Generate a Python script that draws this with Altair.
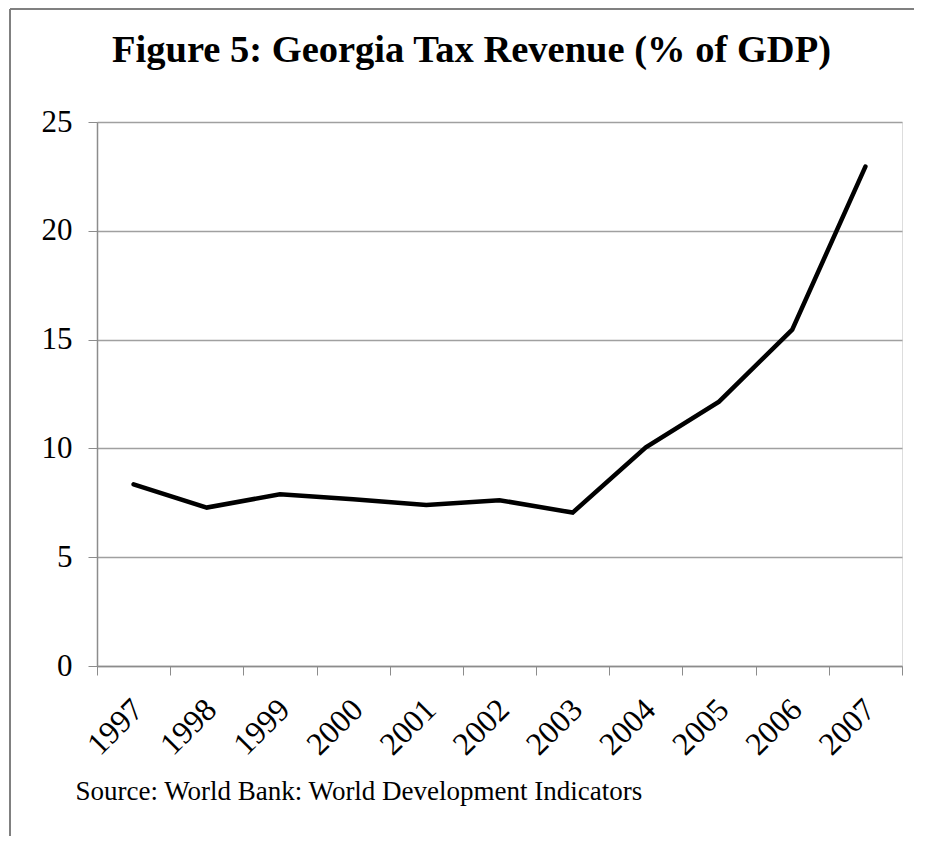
import altair as alt
import pandas as pd

years = ["1997", "1998", "1999", "2000", "2001", "2002", "2003", "2004", "2005", "2006", "2007"]
revenue = [8.35, 7.28, 7.89, 7.66, 7.40, 7.62, 7.05, 10.05, 12.15, 15.46, 22.95]
y_ticks = [0, 5, 10, 15, 20, 25]

title_text = "Figure 5: Georgia  Tax Revenue (% of GDP)"
source_text = "Source: World Bank: World Development Indicators"

df = pd.DataFrame({"year": years, "revenue": revenue})

FONT = "Liberation Serif"
W, H = 805, 544

line = alt.Chart(df).mark_line(color="black", strokeWidth=4.5, strokeJoin="miter", strokeCap="round").encode(
    x=alt.X(
        "year:O",
        bandPosition=0.5,
        sort=years,
        scale=alt.Scale(type="band", paddingInner=0, paddingOuter=0),
        axis=alt.Axis(
            title=source_text,
            titleFont=FONT,
            titleFontSize=27,
            titleFontWeight="normal",
            titleColor="black",
            titleAnchor="start",
            titleAlign="left",
            titleBaseline="alphabetic",
            titleX=-22,
            titleY=133,
            labelAngle=-45,
            labelAlign="right",
            labelBaseline="middle",
            labelFont=FONT,
            labelFontSize=32,
            labelColor="black",
            labelPadding=29,
            labelOffset=4,
            tickBand="extent",
            tickSize=9,
            tickColor="#8c8c8c",
            domainColor="#8c8c8c",
            domainWidth=1.5,
            grid=False,
        ),
    ),
    y=alt.Y(
        "revenue:Q",
        scale=alt.Scale(domain=[0, 25], nice=False),
        axis=alt.Axis(
            title=None,
            values=y_ticks,
            labelFont=FONT,
            labelFontSize=31,
            labelColor="black",
            labelPadding=16,
            tickSize=9,
            tickColor="#8c8c8c",
            domainColor="#8c8c8c",
            domainWidth=1.5,
            gridColor="#a0a0a0",
            gridWidth=1.3,
        ),
    ),
)

border_left = alt.Chart(df).mark_rule(color="#808080", strokeWidth=2).encode(
    x=alt.value(-87), y=alt.value(-113), y2=alt.value(800)
)
border_top = alt.Chart(df).mark_rule(color="#808080", strokeWidth=2).encode(
    x=alt.value(-87), x2=alt.value(900), y=alt.value(-113)
)

chart = alt.layer(border_left, border_top, line).properties(
    width=W,
    height=H,
    padding={"left": 89, "top": 114, "right": 12, "bottom": 170},
    autosize=alt.AutoSizeParams(type="none"),
    title=alt.TitleParams(
        text=title_text,
        font=FONT,
        fontSize=38.5,
        fontWeight="bold",
        color="black",
        anchor="middle",
        frame="group",
        baseline="alphabetic",
        dx=-28,
        dy=92,
        offset=0,
    ),
).configure_view(strokeWidth=0).configure(background="white")

chart.save("out.html", embed_options={"renderer": "svg", "actions": False})
